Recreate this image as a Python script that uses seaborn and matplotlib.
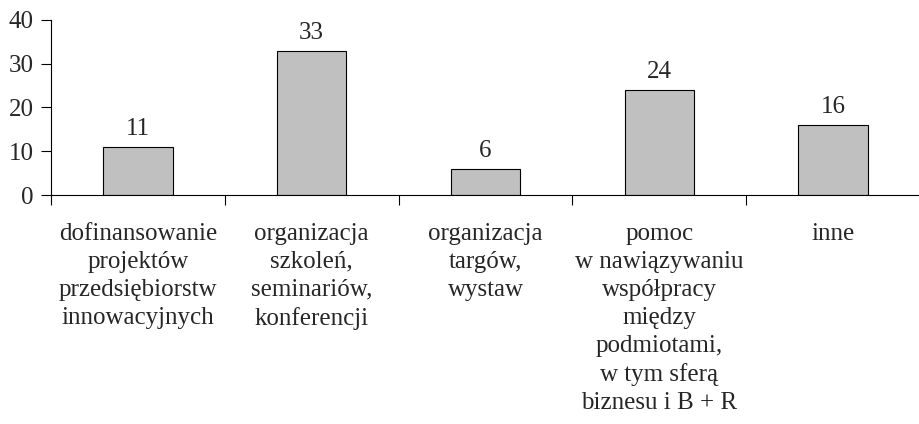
import matplotlib.pyplot as plt
import seaborn as sns
import pandas as pd

sns.set_theme(style="white")
plt.rcParams['font.family'] = ['Liberation Serif', 'DejaVu Serif']

# --- DATA ---
categories = [
    "dofinansowanie\nprojektów\nprzedsiębiorstw\ninnowacyjnych",
    "organizacja\nszkoleń,\nseminariów,\nkonferencji",
    "organizacja\ntargów,\nwystaw",
    "pomoc\nw nawiązywaniu\nwspółpracy\nmiędzy\npodmiotami,\nw tym sferą\nbiznesu i B + R",
    "inne",
]
values = [11, 33, 6, 24, 16]
y_ticks = [0, 10, 20, 30, 40]

df = pd.DataFrame({'cat': categories, 'val': values})
FS = 18

fig = plt.figure(figsize=(9.2, 4.24), dpi=100)
ax = fig.add_axes([0.0554, 0.540, 0.9446, 0.413])

sns.barplot(data=df, x='cat', y='val', ax=ax, color='#c0c0c0',
            edgecolor='black', linewidth=0.8, width=0.4, saturation=1)

ax.set_xlim(-0.5, len(categories) - 0.5)
ax.set_ylim(0, 40)
ax.set_yticks(y_ticks)
ax.set_xlabel('')
ax.set_ylabel('')

for s in ['top', 'right']:
    ax.spines[s].set_visible(False)
for s in ['left', 'bottom']:
    ax.spines[s].set_color('black')
    ax.spines[s].set_linewidth(0.8)

# category labels without ticks, separator ticks between categories
ax.set_xticks([i + 0.5 for i in range(-1, len(categories) - 1)], minor=True)
ax.tick_params(axis='x', which='major', bottom=True, length=0, pad=20, labelsize=FS)
ax.tick_params(axis='x', which='minor', bottom=True, direction='out',
               length=7, width=0.8, color='black')
for lbl in ax.get_xticklabels():
    lbl.set_linespacing(1.35)
    lbl.set_verticalalignment('top')
ax.tick_params(axis='y', left=True, direction='out', length=7, width=0.8,
               color='black', labelsize=FS, pad=5.5)

for c in ax.containers:
    ax.bar_label(c, labels=[str(v) for v in values], padding=5, fontsize=FS)

fig.savefig('out.png', dpi=100)
